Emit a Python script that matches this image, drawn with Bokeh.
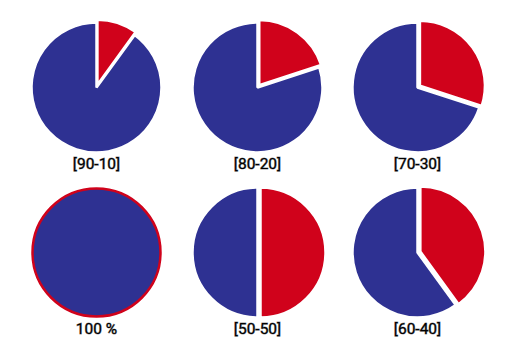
import math
from bokeh.plotting import figure
from bokeh.models import Range1d, ColumnDataSource
from bokeh.embed import file_html
from bokeh.resources import INLINE
from bokeh.core.properties import value

# Data
labels = ["[90-10]", "[80-20]", "[70-30]", "100 %", "[50-50]", "[60-40]"]
blue_share = [90, 80, 70, 100, 50, 60]
red_share = [10, 20, 30, 0, 50, 40]

BLUE = "#2E3192"
RED = "#D0021B"

W, H = 498, 344
# layout (page pixel coordinates)
col_x = [96, 257, 417]
row_y = [87, 252]
label_dy = 76.5
R = 65
EXPLODE = 3

p = figure(width=W, height=H, output_backend="svg", toolbar_location=None,
           x_range=Range1d(0, W), y_range=Range1d(0, H), min_border=0)
p.axis.visible = False
p.grid.visible = False
p.outline_line_color = None
p.background_fill_color = "white"
p.border_fill_color = "white"

def ty(y_page):
    return H - y_page

wx, wy, ws, we, wc = [], [], [], [], []
cx_l, cy_l = [], []
lx, ly = [], []
for i, (lab, b, r) in enumerate(zip(labels, blue_share, red_share)):
    cx = col_x[i % 3]
    cy = ty(row_y[i // 3])
    lx.append(cx)
    ly.append(ty(row_y[i // 3] + label_dy))
    if r == 0:
        cx_l.append(cx)
        cy_l.append(cy)
        continue
    top = math.pi / 2
    r_end = top - 2 * math.pi * r / 100
    mid = (top + r_end) / 2
    # red slice, exploded
    wx.append(cx + EXPLODE * math.cos(mid))
    wy.append(cy + EXPLODE * math.sin(mid))
    ws.append(top)
    we.append(r_end)
    wc.append(RED)
    # blue slice
    wx.append(cx)
    wy.append(cy)
    ws.append(r_end)
    we.append(top - 2 * math.pi * (r + b) / 100)
    wc.append(BLUE)

src = ColumnDataSource(dict(x=wx, y=wy, s=ws, e=we, c=wc))
p.wedge(x="x", y="y", radius=R, start_angle="s", end_angle="e", direction="clock",
        fill_color="c", line_color="white", line_width=2.5, source=src)

p.circle(x=cx_l, y=cy_l, radius=R - 1, fill_color=BLUE, line_color=RED, line_width=2.5)

p.text(x=lx, y=ly, text=labels, text_align="center", text_baseline="middle",
       text_font=value("Roboto"), text_font_size="15.5px", text_font_style="normal",
       text_color="#000000", text_outline_color="rgba(0,0,0,0.45)")

open("out.html", "w").write(file_html(p, INLINE))
